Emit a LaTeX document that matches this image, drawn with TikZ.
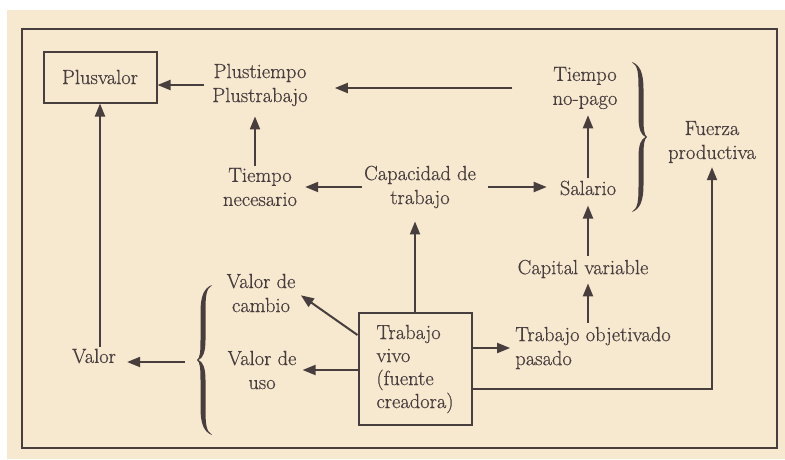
\documentclass[tikz,border=0pt]{standalone}
\usepackage{fontspec}
\setmainfont{Latin Modern Roman}[FakeBold=0.5]
\usetikzlibrary{arrows.meta}
\definecolor{paper}{RGB}{247,232,208}
\definecolor{ink}{RGB}{72,62,62}
\tikzset{
  lbl/.style={font=\fontsize{20.5}{24}\selectfont, text=ink, inner sep=2pt, align=center},
  arr/.style={draw=ink, line width=2pt, -{Triangle[length=13pt,width=10pt]}},
  box/.style={draw=ink, line width=2pt},
  brc/.pic={\fill[ink] (15,-75) .. controls (7,-72) and (3.5,-64) .. (3.5,-48) -- (3.5,-20) .. controls (3.5,-8) and (3,-2) .. (0,0) .. controls (3,2) and (3.5,8) .. (3.5,20) -- (3.5,48) .. controls (3.5,64) and (7,72) .. (15,75) .. controls (9,71) and (8.5,64) .. (8.5,48) -- (8.5,20) .. controls (8.5,8) and (6,2) .. (1.5,0) .. controls (6,-2) and (8.5,-8) .. (8.5,-20) -- (8.5,-48) .. controls (8.5,-64) and (9,-71) .. (15,-75) -- cycle;}
}
\begin{document}
\begin{tikzpicture}[x=1pt,y=-1pt]
\useasboundingbox (0,0) rectangle (785,459);
\fill[white] (0,0) rectangle (785,459);
\fill[paper] (7,10) rectangle (785,459);
\draw[ink, line width=2pt] (22,29) rectangle (777,448);

\node[lbl, box, minimum width=113pt, minimum height=51pt] (pv) at (100,77) {Plusvalor};
\node[lbl] (pt) at (260,85) {Plustiempo\\Plustrabajo};
\node[lbl] (tnp) at (585,88) {Tiempo\\no-pago};
\node[lbl] (fp) at (712,142) {Fuerza\\productiva};
\node[lbl] (sal) at (588,188) {Salario};
\node[lbl] (cap) at (420,187) {Capacidad de\\trabajo};
\node[lbl] (tn) at (260,187) {Tiempo\\necesario};
\node[lbl] (val) at (94,356) {Valor};
\node[lbl] (vc) at (261,293) {Valor de\\cambio};
\node[lbl] (vu) at (262,370) {Valor de\\uso};
\node[lbl, font=\fontsize{20.5}{23}\selectfont, align=left, box, minimum width=113pt, minimum height=112pt] (tv) at (415,369) {Trabajo\\vivo\\(fuente\\creadora)};
\node[lbl, align=left] (to) at (593,348) {Trabajo objetivado\\pasado};
\node[lbl] (cv) at (583,269) {Capital variable};

\pic at (197,360) {brc};
\pic[xscale=-1] at (647,137) {brc};
\coordinate (lb) at (197,362);

\draw[arr, shorten <=6.5pt] (pt.west) -- (pt.west -| pv.east);
\draw[arr, shorten <=38pt, shorten >=25pt] (tnp.west) -- (tnp.west -| pt.east);
\draw[arr, shorten >=8pt] ([xshift=-5pt]tn.north) -- ([xshift=-5pt]pt.south);
\draw[arr, shorten >=6pt] (cap.west) -- (cap.west -| tn.east);
\draw[arr, shorten <=10pt, shorten >=11pt] (cap.east) -- (cap.east -| sal.west);
\draw[arr, shorten >=4pt] (sal.north) -- (sal.north |- tnp.south);
\draw[arr, shorten <=2pt, shorten >=8pt] (sal.south |- cv.north) -- (sal.south);
\draw[arr, shorten <=2pt, shorten >=3pt] (sal.south |- to.north) -- (sal.south |- cv.south);
\draw[arr, shorten >=11pt] (tv.north) -- (tv.north |- cap.south);
\draw[arr, shorten >=3pt] (tv.east |- to.west) -- (to.west);
\draw[arr, shorten >=2pt] ([yshift=-20pt]tv.east) -| (fp.south);
\draw[arr, shorten >=4pt] ([yshift=-23pt]tv.north west) -- (vc.east);
\draw[arr, shorten >=4pt] (tv.west |- vu.east) -- (vu.east);
\draw[arr, shorten <=12pt, shorten >=9pt] (lb) -- (lb -| val.east);
\draw[arr] (pv.south |- val.north) -- (pv.south);
\end{tikzpicture}
\end{document}
